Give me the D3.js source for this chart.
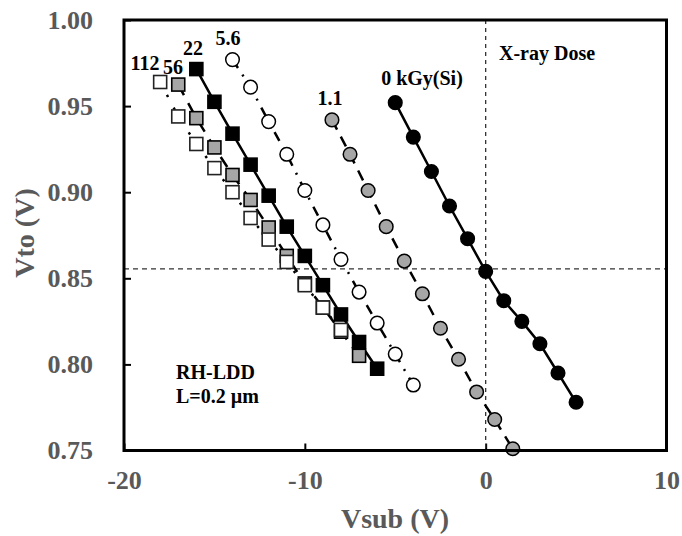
<!DOCTYPE html>
<html>
<head>
<meta charset="utf-8">
<script src="https://cdn.jsdelivr.net/npm/d3@7"></script>
<style>
    body { margin: 0; background: #fff; }
    #chart { width: 682px; height: 536px; }
    text { font-family: "Liberation Serif", "Times New Roman", serif; font-weight: bold; }
</style>
</head>
<body>
<div id="chart"></div>
<script>
// Vsub (V) / Vto (V) for each X-ray dose
const doses = ["0 kGy(Si)", "1.1", "5.6", "22", "56", "112"];

const vsub0 = [-5, -4, -3, -2, -1, 0, 1, 2, 3, 4, 5];
const vto0 = [0.952, 0.932, 0.912, 0.892, 0.873, 0.854, 0.837, 0.825, 0.812, 0.795, 0.778];

const vsub1 = [-8.5, -7.5, -6.5, -5.5, -4.5, -3.5, -2.5, -1.5, -0.5, 0.5, 1.5];
const vto1 = [0.942, 0.922, 0.901, 0.880, 0.860, 0.841, 0.821, 0.803, 0.784, 0.768, 0.751];

const vsub2 = [-14, -13, -12, -11, -10, -9, -8, -7, -6, -5, -4];
const vto2 = [0.977, 0.961, 0.941, 0.922, 0.901, 0.881, 0.861, 0.842, 0.824, 0.806, 0.788];

const vsub3 = [-16, -15, -14, -13, -12, -11, -10, -9, -8, -7, -6];
const vto3 = [0.9715, 0.9525, 0.934, 0.916, 0.898, 0.880, 0.863, 0.846, 0.829, 0.813, 0.7975];

const vsub4 = [-17, -16, -15, -14, -13, -12, -11, -10, -9, -8, -7];
const vto4 = [0.9625, 0.943, 0.926, 0.910, 0.8955, 0.8795, 0.863, 0.847, 0.833, 0.819, 0.805];

const vsub5 = [-18, -17, -16, -15, -14, -13, -12, -11, -10, -9, -8];
const vto5 = [0.964, 0.944, 0.928, 0.914, 0.900, 0.885, 0.8725, 0.8595, 0.846, 0.833, 0.820];

const xTicks = [-20, -10, 0, 10];
const yTicks = [0.75, 0.80, 0.85, 0.90, 0.95, 1.00];

// dashed reference lines
const refVsub = 0;
const refVto = 0.8555;

class ThresholdVis {
    constructor(parentElement) {
        this.parentElement = parentElement;
        this.initVis();
    }

    initVis() {
        let vis = this;

        vis.margin = { top: 20, right: 15.5, bottom: 85.5, left: 124 };
        vis.width = 682 - vis.margin.left - vis.margin.right;
        vis.height = 536 - vis.margin.top - vis.margin.bottom;

        vis.svg = d3.select("#" + vis.parentElement).append("svg")
            .attr("width", 682)
            .attr("height", 536)
            .append("g")
            .attr("transform", "translate(" + vis.margin.left + "," + vis.margin.top + ")");

        vis.x = d3.scaleLinear().domain([-20, 10]).range([0, vis.width]);
        vis.y = d3.scaleLinear().domain([0.75, 1.00]).range([vis.height, 0]);

        // axes, ticks pointing inward; plain hyphen for negatives like the original
        vis.xAxis = d3.axisBottom(vis.x)
            .tickValues(xTicks)
            .tickFormat(d => String(d))
            .tickSizeInner(-7)
            .tickSizeOuter(0)
            .tickPadding(20);

        vis.yAxis = d3.axisLeft(vis.y)
            .tickValues(yTicks)
            .tickFormat(d => d.toFixed(2))
            .tickSizeInner(-7)
            .tickSizeOuter(0)
            .tickPadding(31);

        vis.svg.append("g")
            .attr("class", "x-axis axis")
            .attr("transform", "translate(0," + vis.height + ")")
            .call(vis.xAxis);

        vis.svg.append("g")
            .attr("class", "y-axis axis")
            .call(vis.yAxis);

        vis.svg.selectAll(".axis .domain").remove();
        vis.svg.selectAll(".axis line").attr("stroke", "#000").attr("stroke-width", 2);
        vis.svg.selectAll(".axis text")
            .attr("fill", "#595959")
            .style("font-size", "26px")
            .style("font-family", "'Liberation Serif', 'Times New Roman', serif")
            .style("font-weight", "bold");

        // axis titles
        vis.svg.append("text")
            .attr("x", 395 - vis.margin.left)
            .attr("y", 528 - vis.margin.top)
            .attr("text-anchor", "middle")
            .attr("fill", "#595959")
            .attr("font-size", 28)
            .text("Vsub (V)");

        vis.svg.append("text")
            .attr("transform", "translate(" + (34 - vis.margin.left) + "," + (233 - vis.margin.top) + ") rotate(-90)")
            .attr("text-anchor", "middle")
            .attr("fill", "#595959")
            .attr("font-size", 28)
            .text("Vto (V)");

        // reference lines
        vis.svg.append("line")
            .attr("x1", vis.x(refVsub)).attr("x2", vis.x(refVsub))
            .attr("y1", 0).attr("y2", vis.height)
            .attr("stroke", "#333").attr("stroke-width", 1.3)
            .attr("stroke-dasharray", "4,4");

        vis.svg.append("line")
            .attr("x1", 0).attr("x2", vis.width)
            .attr("y1", vis.y(refVto)).attr("y2", vis.y(refVto))
            .attr("stroke", "#333").attr("stroke-width", 1.3)
            .attr("stroke-dasharray", "5,4");

        vis.wrangleData();
    }

    wrangleData() {
        let vis = this;

        const zip = (xs, ys) => xs.map((v, i) => ({ vsub: v, vto: ys[i] }));

        // drawing order follows the picture: 22 under 56 under 112
        vis.series = [
            { name: doses[0], pts: zip(vsub0, vto0), shape: "circle", fill: "#000", dash: null },
            { name: doses[1], pts: zip(vsub1, vto1), shape: "circle", fill: "#a6a6a6", dash: "11,8" },
            { name: doses[2], pts: zip(vsub2, vto2), shape: "circle", fill: "#fff", dash: "10,8,2,8" },
            { name: doses[3], pts: zip(vsub3, vto3), shape: "square", fill: "#000", dash: null },
            { name: doses[4], pts: zip(vsub4, vto4), shape: "square", fill: "#a6a6a6", dash: "12,9" },
            { name: doses[5], pts: zip(vsub5, vto5), shape: "square", fill: "#fff", dash: "2.5,12" }
        ];

        vis.updateVis();
    }

    updateVis() {
        let vis = this;

        let line = d3.line()
            .x(d => vis.x(d.vsub))
            .y(d => vis.y(d.vto));

        let groups = vis.svg.selectAll(".series")
            .data(vis.series)
            .enter().append("g")
            .attr("class", "series");

        groups.append("path")
            .attr("d", d => line(d.pts))
            .attr("fill", "none")
            .attr("stroke", "#000")
            .attr("stroke-width", 2.5)
            .attr("stroke-dasharray", d => d.dash);

        groups.each(function(s) {
            let g = d3.select(this);
            if (s.shape === "circle") {
                g.selectAll("circle")
                    .data(s.pts)
                    .enter().append("circle")
                    .attr("cx", d => vis.x(d.vsub))
                    .attr("cy", d => vis.y(d.vto))
                    .attr("r", 6.8)
                    .attr("fill", s.fill)
                    .attr("stroke", "#000")
                    .attr("stroke-width", 1.5);
            } else {
                g.selectAll("rect")
                    .data(s.pts)
                    .enter().append("rect")
                    .attr("x", d => vis.x(d.vsub) - 6.5)
                    .attr("y", d => vis.y(d.vto) - 6.5)
                    .attr("width", 13)
                    .attr("height", 13)
                    .attr("fill", s.fill)
                    .attr("stroke", s.fill === "#fff" ? "#222" : "#000")
                    .attr("stroke-width", 1.6);
            }
        });

        // dose labels and device text
        let notes = [
            { t: "112", x: 145, y: 63 },
            { t: "56", x: 173, y: 67 },
            { t: "22", x: 193, y: 48 },
            { t: "5.6", x: 228, y: 38 },
            { t: "1.1", x: 330, y: 98 },
            { t: "0 kGy(Si)", x: 422, y: 78 },
            { t: "X-ray Dose", x: 547, y: 53 }
        ];

        vis.svg.selectAll(".note")
            .data(notes)
            .enter().append("text")
            .attr("class", "note")
            .attr("x", d => d.x - vis.margin.left)
            .attr("y", d => d.y - vis.margin.top + 7)
            .attr("text-anchor", "middle")
            .attr("font-size", 20)
            .attr("fill", "#000")
            .text(d => d.t);

        vis.svg.append("text")
            .attr("x", 176 - vis.margin.left)
            .attr("y", 372 - vis.margin.top + 7)
            .attr("font-size", 20)
            .text("RH-LDD");

        vis.svg.append("text")
            .attr("x", 176 - vis.margin.left)
            .attr("y", 396 - vis.margin.top + 7)
            .attr("font-size", 20)
            .text("L=0.2 µm");

        // plot frame
        vis.svg.append("rect")
            .attr("x", 0).attr("y", 0)
            .attr("width", vis.width).attr("height", vis.height)
            .attr("fill", "none")
            .attr("stroke", "#000")
            .attr("stroke-width", 3);
    }
}

new ThresholdVis("chart");
</script>
</body>
</html>
